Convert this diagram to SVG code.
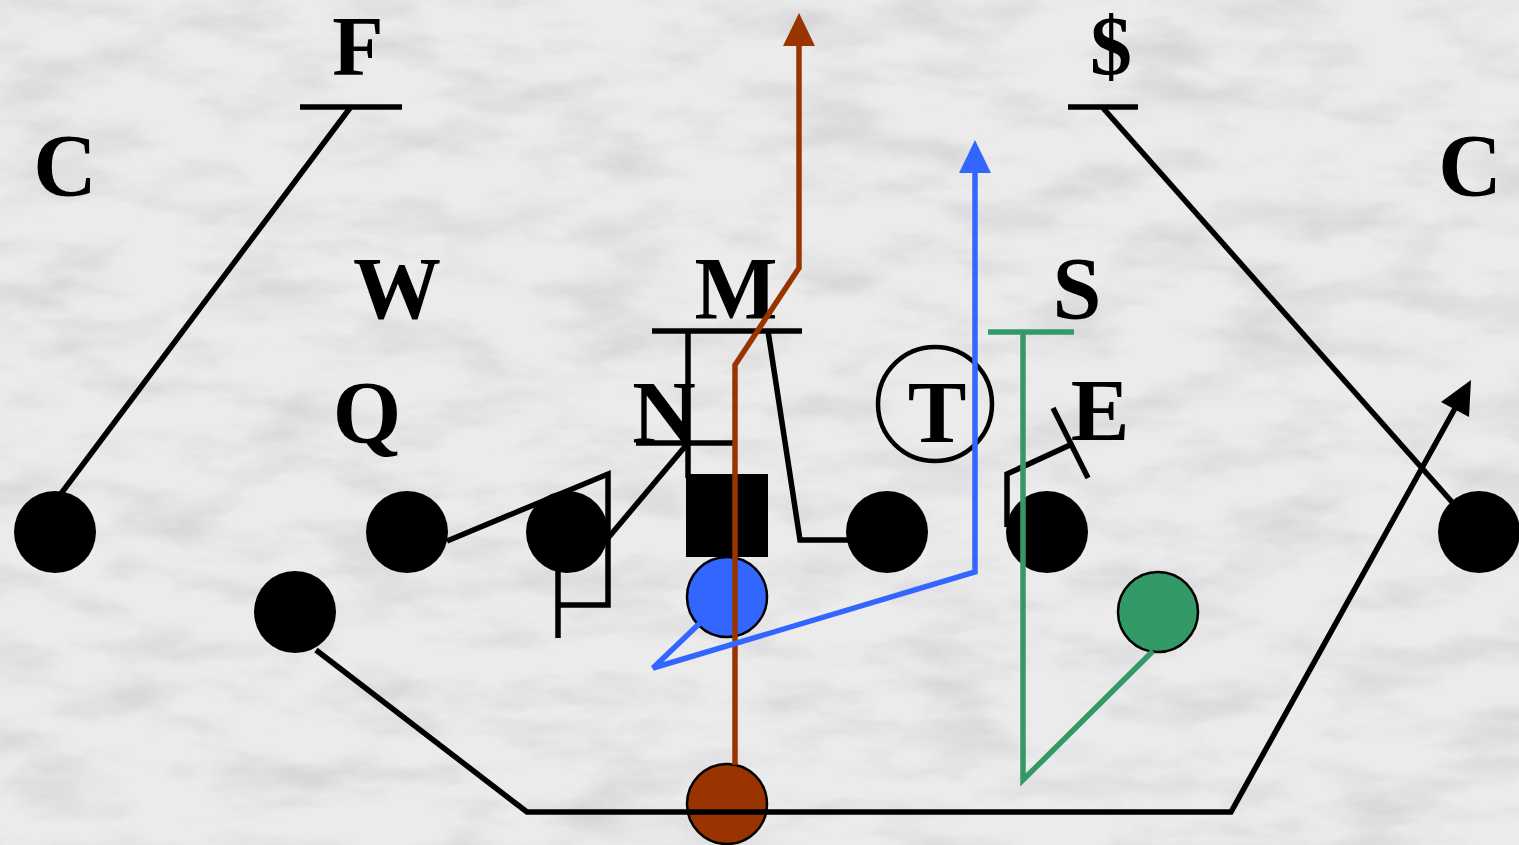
<svg xmlns="http://www.w3.org/2000/svg" width="1519" height="845" viewBox="0 0 1519 845">
<defs>
<filter id="marble" x="0" y="0" width="100%" height="100%">
<feTurbulence type="fractalNoise" baseFrequency="0.009 0.025" numOctaves="5" seed="7"/>
<feColorMatrix type="matrix" values="0 0 0 0 0.58  0 0 0 0 0.58  0 0 0 0 0.6  1.4 0 0 0 -0.62"/>
</filter>
<style>
.lbl{font-family:"Liberation Serif","Times New Roman",serif;font-weight:bold;font-size:88px;fill:#000;text-anchor:middle}
.top{font-size:84px}
.off{fill:#000}
.ln{fill:none;stroke:#000;stroke-width:5.5;stroke-linejoin:miter}
.blue{fill:none;stroke:#3366ff;stroke-width:5.5}
.brown{fill:none;stroke:#993300;stroke-width:5.5}
.green{fill:none;stroke:#339966;stroke-width:5.5}
.ring{fill:none;stroke:#000;stroke-width:4.5}
</style>
</defs>
<rect x="0" y="0" width="1519" height="845" fill="#ebebec"/>
<rect x="0" y="0" width="1519" height="845" filter="url(#marble)"/>

<g id="defenders">
<g id="def-C-left"><text class="lbl" x="65" y="195">C</text></g>
<g id="def-F"><text class="lbl top" x="358" y="75">F</text></g>
<g id="def-dollar"><text class="lbl top" x="1111" y="75">$</text></g>
<g id="def-C-right"><text class="lbl" x="1470" y="195">C</text></g>
<g id="def-W"><text class="lbl" x="397" y="318">W</text></g>
<g id="def-M"><text class="lbl" x="736" y="318">M</text></g>
<g id="def-S"><text class="lbl" x="1077" y="318">S</text></g>
<g id="def-Q"><text class="lbl" x="367" y="442">Q</text></g>
<g id="def-N"><text class="lbl" x="664" y="442">N</text></g>
<g id="def-T"><circle class="ring" cx="935" cy="404" r="57"/><text class="lbl" x="937" y="442">T</text></g>
<g id="def-E"><text class="lbl" x="1100" y="440">E</text></g>
</g>

<g id="offense">
<g id="wr-left"><circle class="off" cx="55" cy="532" r="41"/></g>
<g id="slot-left"><circle class="off" cx="407" cy="532" r="41"/></g>
<g id="lt"><circle class="off" cx="567" cy="532" r="41"/></g>
<g id="center"><rect class="off" x="686" y="474" width="82" height="83"/></g>
<g id="rt"><circle class="off" cx="887" cy="532" r="41"/></g>
<g id="te"><circle class="off" cx="1047" cy="532" r="41"/></g>
<g id="wr-right"><circle class="off" cx="1479" cy="532" r="41"/></g>
<g id="rb-left"><circle class="off" cx="295" cy="612" r="41"/></g>
<g id="qb"><circle cx="727" cy="597" r="40" fill="#3366ff" stroke="#000" stroke-width="2.5"/></g>
<g id="back-green"><circle cx="1158" cy="612" r="40" fill="#339966" stroke="#000" stroke-width="2.5"/></g>
<g id="back-brown"><circle cx="727" cy="804" r="40" fill="#993300" stroke="#000" stroke-width="2.5"/></g>
</g>

<g id="connectors">
<line class="ln" x1="300" y1="107" x2="402" y2="107"/>
<line class="ln" x1="350" y1="108" x2="60" y2="495"/>
<line class="ln" x1="1068" y1="107" x2="1138" y2="107"/>
<line class="ln" x1="1103" y1="108" x2="1452" y2="502"/>
<polyline class="ln" points="316,650 527,812 1231,812 1458,403"/>
<polygon points="1471,380 1441,402 1469,417" fill="#000"/>
<polyline class="ln" points="447,541 608,474 608,605 558,605"/>
<line class="ln" x1="558" y1="560" x2="558" y2="638"/>
<line class="ln" x1="608" y1="538" x2="688" y2="443"/>
<line class="ln" x1="636" y1="443" x2="733" y2="443"/>
<line class="ln" x1="688" y1="331" x2="688" y2="478"/>
<line class="ln" x1="652" y1="331" x2="802" y2="331"/>
<polyline class="ln" points="768,331 800,540 848,540"/>
<polyline class="ln" points="1007,527 1007,474 1070,445"/>
<line class="ln" x1="1053" y1="408" x2="1088" y2="478"/>
<line class="green" x1="988" y1="332" x2="1074" y2="332"/>
<polyline class="green" points="1023,332 1023,780 1153,651"/>
<polyline class="brown" points="735,765 735,365 799,268 799,44"/>
<polygon points="799,13 783,46 815,46" fill="#993300"/>
<polyline class="blue" points="700,623 653,668 975,572 975,170"/>
<polygon points="975,140 959,173 991,173" fill="#3366ff"/>
</g>
</svg>
